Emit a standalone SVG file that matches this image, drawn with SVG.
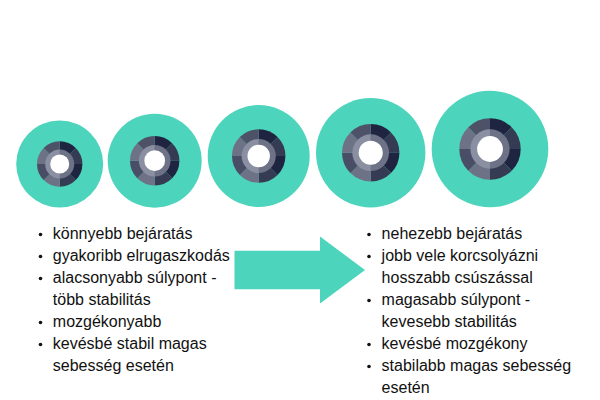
<svg xmlns="http://www.w3.org/2000/svg" width="600" height="400" viewBox="0 0 600 400">
<style>
.t{font-family:"Liberation Sans",Arial,sans-serif;font-size:16px;fill:#111}
.b{fill:#111}
.teal{fill:#4dd4bc}
</style>
<defs>
<g id="hub">
<path d="M0 0V-100A100 100 0 0 1 70.7 -70.7Z" fill="#1f2540"/>
<path d="M0 0L70.7 -70.7A100 100 0 0 1 100 0Z" fill="#353b53"/>
<path d="M0 0H100A100 100 0 0 1 70.7 70.7Z" fill="#1f2540"/>
<path d="M0 0L70.7 70.7A100 100 0 0 1 0 100Z" fill="#353b53"/>
<path d="M0 0V100A100 100 0 0 1 -70.7 70.7Z" fill="#6d7287"/>
<path d="M0 0L-70.7 70.7A100 100 0 0 1 -100 0Z" fill="#494e66"/>
<path d="M0 0H-100A100 100 0 0 1 -70.7 -70.7Z" fill="#6d7287"/>
<path d="M0 0L-70.7 -70.7A100 100 0 0 1 0 -100Z" fill="#4d5268"/>
<path d="M0 -64A64 64 0 0 1 0 64Z" fill="#6d7287"/>
<path d="M0 64A64 64 0 0 1 0 -64Z" fill="#8a8fa2"/>
<circle r="42" fill="#fff"/>
</g>
</defs>
<g id="wheel1"><circle class="teal" cx="59.700" cy="164" r="43.500"/><use href="#hub" transform="translate(59.7 164) scale(.227)"/></g>
<g id="wheel2"><circle class="teal" cx="154.700" cy="160.700" r="47"/><use href="#hub" transform="translate(154.7 160.7) scale(.247)"/></g>
<g id="wheel3"><circle class="teal" cx="258.700" cy="156" r="51"/><use href="#hub" transform="translate(258.7 156) scale(.267)"/></g>
<g id="wheel4"><circle class="teal" cx="370.700" cy="152.700" r="54.700"/><use href="#hub" transform="translate(370.7 152.7) scale(.287)"/></g>
<g id="wheel5"><circle class="teal" cx="490" cy="149" r="58.300"/><use href="#hub" transform="translate(490 149) scale(.307)"/></g>
<g id="arrow"><polygon class="teal" points="234.5,250.7 320,250.7 320,236.5 365,270 320,303.5 320,289.3 234.5,289.3"/></g>
<g id="list-left">
<circle class="b" cx="40.500" cy="234.500" r="1.800"/><text class="t" x="52.800" y="239">könnyebb bejáratás</text>
<circle class="b" cx="40.500" cy="256.500" r="1.800"/><text class="t" x="52.800" y="261">gyakoribb elrugaszkodás</text>
<circle class="b" cx="40.500" cy="278.500" r="1.800"/><text class="t" x="52.800" y="283">alacsonyabb súlypont -</text>
<text class="t" x="52.800" y="305">több stabilitás</text>
<circle class="b" cx="40.500" cy="322.500" r="1.800"/><text class="t" x="52.800" y="327">mozgékonyabb</text>
<circle class="b" cx="40.500" cy="344.500" r="1.800"/><text class="t" x="52.800" y="349">kevésbé stabil magas</text>
<text class="t" x="52.800" y="371">sebesség esetén</text>
</g>
<g id="list-right">
<circle class="b" cx="369" cy="234.500" r="1.800"/><text class="t" x="381.600" y="239">nehezebb bejáratás</text>
<circle class="b" cx="369" cy="256.500" r="1.800"/><text class="t" x="381.600" y="261">jobb vele korcsolyázni</text>
<text class="t" x="381.600" y="283">hosszabb csúszással</text>
<circle class="b" cx="369" cy="300.500" r="1.800"/><text class="t" x="381.600" y="305">magasabb súlypont -</text>
<text class="t" x="381.600" y="327">kevesebb stabilitás</text>
<circle class="b" cx="369" cy="344.500" r="1.800"/><text class="t" x="381.600" y="349">kevésbé mozgékony</text>
<circle class="b" cx="369" cy="366.500" r="1.800"/><text class="t" x="381.600" y="371">stabilabb magas sebesség</text>
<text class="t" x="381.600" y="393">esetén</text>
</g>
</svg>
